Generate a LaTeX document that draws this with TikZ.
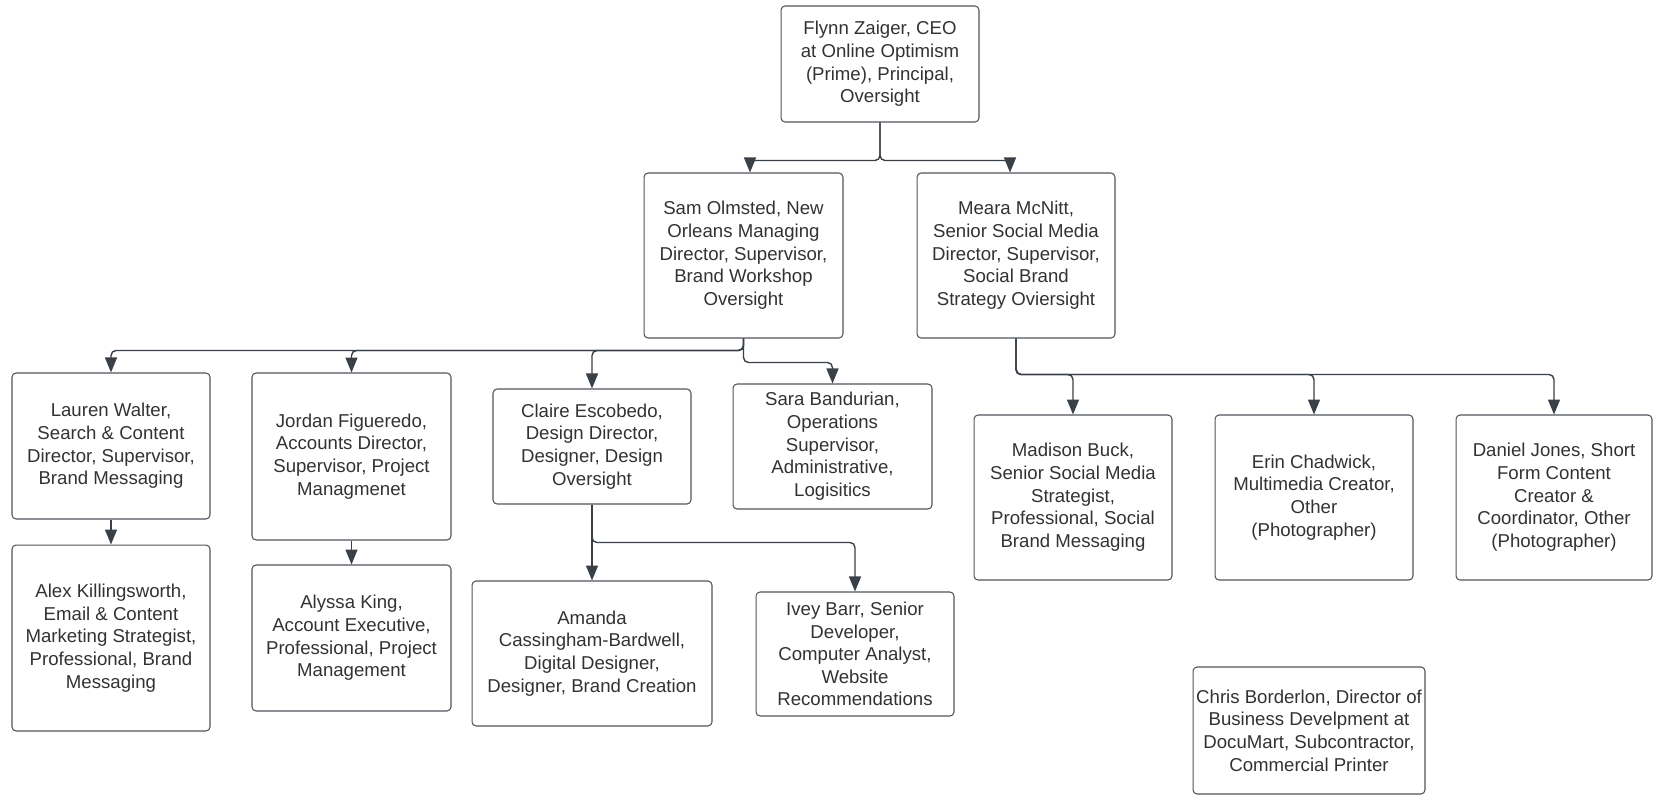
\documentclass[tikz,border=0pt]{standalone}
\usepackage{fontspec}
\setmainfont{Liberation Sans}
\usepackage{tikz}
\usetikzlibrary{arrows.meta}
\definecolor{LineGray}{RGB}{58,64,71}
\definecolor{BoxGray}{RGB}{80,84,90}
\definecolor{TextGray}{RGB}{50,50,50}

\begin{document}
\begin{tikzpicture}[x=0.02cm,y=-0.02cm,
		box/.style 2 args={draw=BoxGray, line width=0.6pt, rounded corners=0.08cm, align=center, inner sep=0pt,
			text=TextGray, font=\fontsize{10.6}{12.9}\selectfont, minimum width=#1cm, minimum height=#2cm},
		link/.style={draw=LineGray, line width=0.8pt, rounded corners=0.1cm, -{Triangle[length=0.3cm,width=0.24cm]}}]
		\useasboundingbox (0,0) rectangle (1653,795);
		
		\node[box={3.96}{2.32}] (ceo) at (880,64) {Flynn Zaiger, CEO\\at Online Optimism\\(Prime), Principal,\\Oversight};
		\node[box={3.98}{3.3}] (sam) at (743.5,255.5) {Sam Olmsted, New\\Orleans Managing\\Director, Supervisor,\\Brand Workshop\\Oversight};
		\node[box={3.96}{3.3}] (meara) at (1016,255.5) {Meara McNitt,\\Senior Social Media\\Director, Supervisor,\\Social Brand\\Strategy Oviersight};
		
		\node[box={3.96}{2.92}] (lauren) at (111,446) {Lauren Walter,\\Search \& Content\\Director, Supervisor,\\Brand Messaging};
		\node[box={3.96}{3.72}] (alex) at (111,638) {Alex Killingsworth,\\Email \& Content\\Marketing Strategist,\\Professional, Brand\\Messaging};
		\node[box={3.98}{3.34}] (jordan) at (351.5,456.5) {Jordan Figueredo,\\Accounts Director,\\Supervisor, Project\\Managmenet};
		\node[box={3.98}{2.92}] (alyssa) at (351.5,638) {Alyssa King,\\Account Executive,\\Professional, Project\\Management};
		\node[box={3.96}{2.3}] (claire) at (592,446.5) {Claire Escobedo,\\Design Director,\\Designer, Design\\Oversight};
		\node[box={4.8}{2.9}] (amanda) at (592,653.5) {Amanda\\Cassingham-Bardwell,\\Digital Designer,\\Designer, Brand Creation};
		\node[box={3.98}{2.5}] (sara) at (832.5,446.5) {Sara Bandurian,\\Operations\\Supervisor,\\Administrative,\\Logisitics};
		\node[box={3.96}{2.48}] (ivey) at (855,654) {Ivey Barr, Senior\\Developer,\\Computer Analyst,\\Website\\Recommendations};
		
		\node[box={3.96}{3.3}] (madison) at (1073,497.5) {Madison Buck,\\Senior Social Media\\Strategist,\\Professional, Social\\Brand Messaging};
		\node[box={3.96}{3.3}] (erin) at (1314,497.5) {Erin Chadwick,\\Multimedia Creator,\\Other\\(Photographer)};
		\node[box={3.92}{3.3}] (daniel) at (1554,497.5) {Daniel Jones, Short\\Form Content\\Creator \&\\Coordinator, Other\\(Photographer)};
		\node[box={4.64}{2.54}] (chris) at (1309,730.5) {Chris Borderlon, Director of\\Business Develpment at\\DocuMart, Subcontractor,\\Commercial Printer};
		
		\foreach \n/\s in {sam/0.13,meara/-0.12}
			\draw[link] (ceo.south) -- ++(0,38) -| ([xshift=\s cm]\n.north);
		\foreach \n in {lauren,jordan,claire}
			\draw[link] (sam.south) -- ++(0,12) -| (\n.north);
		\draw[link] (sam.south) -- ++(0,24) -| (sara.north);
		\foreach \n in {madison,erin,daniel}
			\draw[link] (meara.south) -- ++(0,36) -| (\n.north);
		\draw[link] (lauren) -- (alex);
		\draw[link] (jordan) -- (alyssa);
		\draw[link] (claire) -- (amanda);
		\draw[link] (claire.south) -- ++(0,38) -| (ivey.north);
	\end{tikzpicture}
\end{document}
